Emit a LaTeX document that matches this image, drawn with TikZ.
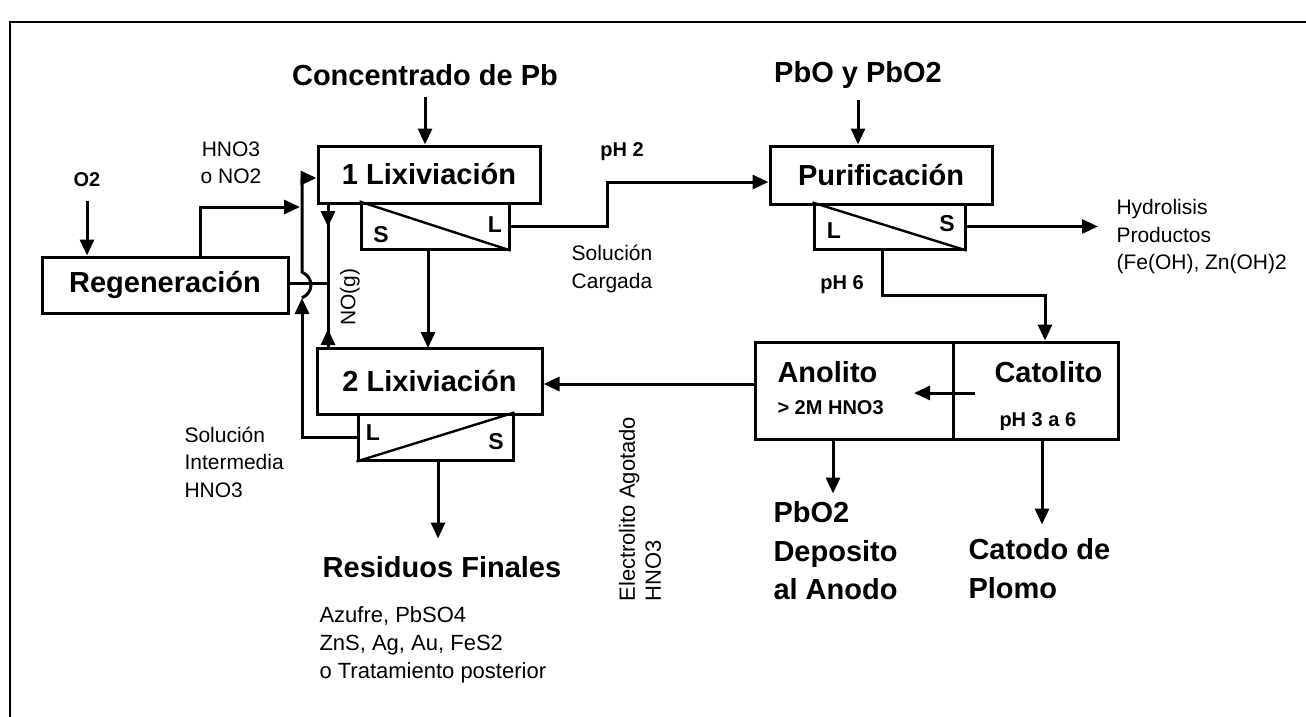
\documentclass[tikz,border=0pt]{standalone}
\usepackage{fontspec}
\setmainfont{Liberation Sans}
\usetikzlibrary{arrows.meta}
\begin{document}
\begin{tikzpicture}[x=1pt,y=-1pt,
  line width=3pt,
  >={Triangle[length=16pt,width=14pt]},
  big/.style={font=\fontsize{29}{38}\selectfont\bfseries, inner sep=0pt},
  mid/.style={font=\fontsize{23}{26}\selectfont\bfseries, inner sep=0pt},
  small/.style={font=\fontsize{21}{27.5}\selectfont, inner sep=0pt},
  smallb/.style={font=\fontsize{20}{26}\selectfont\bfseries, inner sep=0pt},
  box/.style={draw, rectangle, inner sep=0pt, line width=3pt},
  diag/.style={line width=2.4pt}]
\useasboundingbox (0,0) rectangle (1306,717);
\fill[white] (0,0) rectangle (1306,717);
\draw[line width=2pt] (10,720) -- (10,22) -- (1310,22);

% ---------- main boxes ----------
\node[box, big, minimum width=222pt, minimum height=57pt] (b1) at (429,174.5) {1 Lixiviación};
\node[box, minimum width=148pt, minimum height=46pt] (s1) at (435,226) {};
\draw[diag] (s1.north west) -- (s1.south east);
\node[mid] (s1S) at (381,235) {S};
\node[mid] (s1L) at (495,225) {L};

\node[box, big, minimum width=225pt, minimum height=66pt] (b2) at (429.5,381) {2 Lixiviación};
\node[box, minimum width=155pt, minimum height=46pt] (s2) at (435.5,437) {};
\draw[diag] (s2.south west) -- (s2.north east);
\node[mid] (s2L) at (373,433) {L};
\node[mid] (s2S) at (496,442) {S};

\node[box, big, minimum width=222pt, minimum height=58pt] (pf) at (881,175) {Purificación};
\node[box, minimum width=151pt, minimum height=45pt] (sp) at (889.5,226.5) {};
\draw[diag] (sp.north west) -- (sp.south east);
\node[mid] (spL) at (834,231) {L};
\node[mid] (spS) at (947,224) {S};

\node[box, big, minimum width=246pt, minimum height=56pt] (rg) at (165,285) {Regeneración};

\node[box, minimum width=198pt, minimum height=97pt] (an) at (854,390.5) {};
\node[box, minimum width=165pt, minimum height=97pt] (cat) at (1035.5,390.5) {};
\node[big, anchor=west] (anT) at (776,372) {Anolito};
\node[smallb, anchor=west] (anS) at (776,408) {> 2M HNO3};
\node[big, anchor=west] (catT) at (993,372) {Catolito};
\node[smallb, anchor=west] (catS) at (998,422) {pH 3 a 6};

% ---------- texts ----------
\node[big] (conc) at (425,75) {Concentrado de Pb};
\node[big] (pbo) at (858,75) {PbO y PbO2};
\node[smallb] (o2) at (87,180) {O2};
\node[small, align=center] (hno) at (231,163) {HNO3\\o NO2};
\node[smallb] (ph2) at (622,152) {pH 2};
\node[small, align=center] (carg) at (612,269) {Solución\\Cargada};
\node[smallb] (ph6) at (842,285) {pH 6};
\node[small, align=left, anchor=west] (hyd) at (1115,237) {Hydrolisis\\Productos\\(Fe(OH), Zn(OH)2};
\node[small, rotate=90] (nog) at (350,297) {NO(g)};
\node[small, align=left, anchor=west] (inter) at (183,462) {Solución\\Intermedia\\HNO3};
\node[big] (res) at (442,567) {Residuos Finales};
\node[small, align=left, anchor=west, font=\fontsize{22}{28}\selectfont] (resd) at (318,645) {Azufre, PbSO4\\ZnS, Ag, Au, FeS2\\o Tratamiento posterior};
\node[small, rotate=90, align=left, anchor=west, font=\fontsize{22}{26}\selectfont] (elec) at (640,603) {Electrolito Agotado\\HNO3};
\node[big, align=left, anchor=north west, font=\fontsize{29}{38.5}\selectfont\bfseries] (pbo2) at (772,500) {PbO2\\Deposito\\al Anodo};
\node[big, align=left, anchor=north west, font=\fontsize{29}{38.5}\selectfont\bfseries] (catd) at (967,537) {Catodo de\\Plomo};

% ---------- connectors ----------
\draw[->] ([yshift=-10pt]conc.south) -- (conc.south |- b1.north);
\draw[->] ([yshift=-10pt]pbo.south) -- (pbo.south |- pf.north);
\draw[->] ([yshift=-12pt]o2.south) -- (o2.south |- rg.north);

% 1 Lix -> Purificacion
\coordinate (k1) at (607,226);
\coordinate (k2) at (607,182);
\draw[->] (s1.east) -- (k1) -- (k2) -- (pf.west |- k2);

% Purificacion S -> hydrolysis
\draw[->] (sp.east) -- ([xshift=-17pt]hyd.west |- sp.east);

% Purificacion L -> catolito
\coordinate (p1) at (882,295);
\coordinate (p2) at (1045,295);
\draw[->] ([xshift=-7.5pt]sp.south) -- (p1) -- (p2) -- (p2 |- cat.north);

% catolito -> anolito (inside)
\coordinate (ia) at (975,393);
\coordinate (ib) at (914,393);
\draw[->] (ia) -- (ib);

% anolito -> 2 Lix
\draw[->] ([yshift=6.5pt]an.west) -- ([yshift=-3pt]b2.east);

% anolito / catolito outputs
\draw[->] ([xshift=-21pt]an.south) -- ++(0,53);
\draw[->] ([xshift=6.5pt]cat.south) -- ++(0,84);

% 1 Lix S -> 2 Lix
\draw[->] (s1.south -| 428,0) -- (428,348);

% 2 Lix S -> residuos
\draw[->] ([xshift=2.5pt]s2.south) -- ++(0,77);

% Regeneracion -> 1 Lix (HNO3 / NO2)
\coordinate (r1) at (200,207);
\draw[->] ([xshift=35pt]rg.north) -- (r1) -- (300,207);

% Solucion intermedia loop with hop
\coordinate (l1) at (302,437);
\coordinate (l2) at (302,298);
\coordinate (l3) at (302,272);
\coordinate (l4) at (302,178);
\draw[->] (s2.west |- l1) -- (l1) -- (l2);
\draw[->] (l2) .. controls (314,292) and (314,278) .. (l3) -- (l4) -- (b1.west |- l4);

% NO(g) lines
\coordinate (n1) at (328,203);
\coordinate (n2) at (328,348);
\coordinate (j) at (328,283);
\draw[->] (n1) -- ++(0,24);
\draw (n1) -- (j);
\draw[->] (n2) -- ++(0,-19);
\draw (n2) -- (j);
\draw (j) -- (rg.east |- j);
\end{tikzpicture}
\end{document}
